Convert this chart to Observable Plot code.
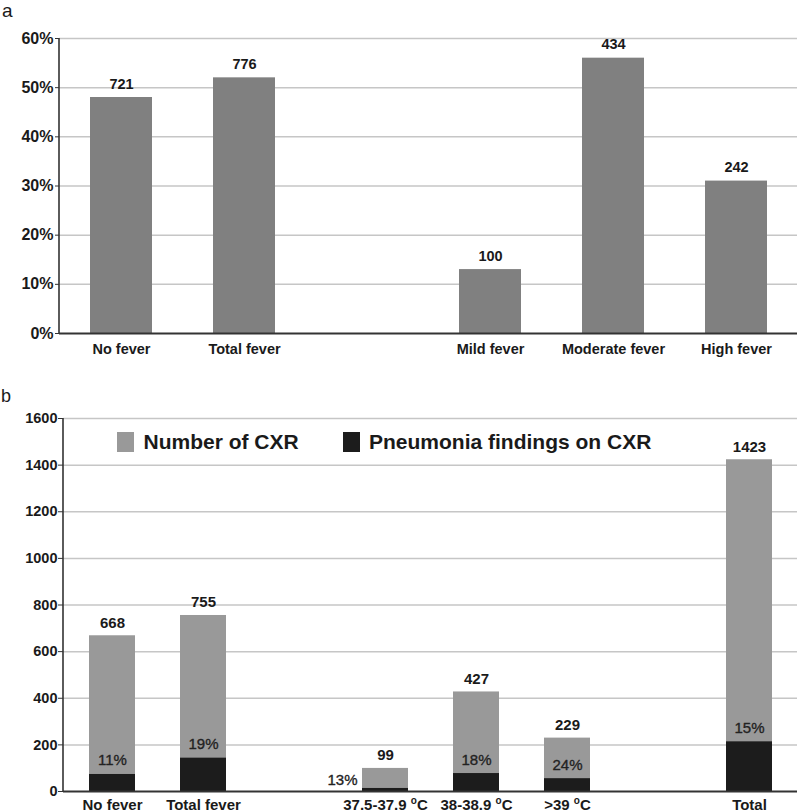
<!DOCTYPE html>
<html>
<head>
<meta charset="utf-8">
<script src="https://cdn.jsdelivr.net/npm/d3@7"></script>
<script src="https://cdn.jsdelivr.net/npm/@observablehq/plot@0.6"></script>
<style>
  html, body { margin: 0; padding: 0; background: #fff; }
  #wrap { position: relative; width: 800px; height: 812px; font-family: "Liberation Sans", Arial, sans-serif; color: #1a1a1a; }
  .panel { position: absolute; left: 0; width: 800px; }
  .plabel { position: absolute; line-height: 1.2; font-weight: normal; }
  .leg { position: absolute; font-size: 21px; font-weight: bold; line-height: normal; white-space: nowrap; }
  .sw { position: absolute; width: 17px; height: 20px; }
  svg { overflow: visible; }
</style>
</head>
<body>
<div id="wrap">
  <div class="panel" id="pa" style="top:0;height:365px"></div>
  <div class="panel" id="pb" style="top:365px;height:447px"></div>
</div>
<script>
const FONT = '"Liberation Sans", Arial, sans-serif';

// ---- Panel a data ----
const catsA = ["No fever", "Total fever", " ", "Mild fever", "Moderate fever", "High fever"];
const barCatsA = ["No fever", "Total fever", "Mild fever", "Moderate fever", "High fever"];
const pctA = [0.48, 0.52, 0.13, 0.56, 0.31];
const countA = [721, 776, 100, 434, 242];
const tickValsA = [0, 0.1, 0.2, 0.3, 0.4, 0.5, 0.6];
const tickLabelsA = ["0%", "10%", "20%", "30%", "40%", "50%", "60%"];

// ---- Panel b data ----
const catsB = ["No fever", "Total fever", " ", "37.5-37.9 °C", "38-38.9 °C", ">39 °C", "  ", "Total"];
const barCatsB = ["No fever", "Total fever", "37.5-37.9 °C", "38-38.9 °C", ">39 °C", "Total"];
const cxrB = [668, 755, 99, 427, 229, 1423];
const pneuB = [73, 143, 13, 77, 55, 213];
const pctLabelB = ["11%", "19%", "13%", "18%", "24%", "15%"];
const outsideB = [false, false, true, false, false, false];
const tickValsB = [0, 200, 400, 600, 800, 1000, 1200, 1400, 1600];
const seriesNames = ["Number of CXR", "Pneumonia findings on CXR"];
const seriesColors = ["#999999", "#1c1c1c"];

const dataA = barCatsA.map((c, i) => ({cat: c, pct: pctA[i], n: countA[i]}));
const dataB = barCatsB.map((c, i) => ({cat: c, total: cxrB[i], pneu: pneuB[i], pct: pctLabelB[i], out: outsideB[i]}));

function addYAxisLine(plot, marginLeft) {
  const r = plot.scale("y").range;
  d3.select(plot).append("line")
    .attr("x1", marginLeft).attr("x2", marginLeft)
    .attr("y1", r[0]).attr("y2", r[1])
    .attr("stroke", "#333").attr("stroke-width", 1.6);
}

// ---- Panel a ----
const plotA = Plot.plot({
  width: 800, height: 365,
  marginLeft: 59, marginRight: 3, marginTop: 38, marginBottom: 32,
  style: {fontFamily: FONT, color: "#1a1a1a", background: "white", overflow: "visible"},
  x: {type: "band", domain: catsA, paddingInner: 0.5, paddingOuter: 0.25, align: 0.5},
  y: {domain: [0, 0.6]},
  marks: [
    Plot.gridY(tickValsA.slice(1), {stroke: "#c6c6c6", strokeOpacity: 1, strokeWidth: 1.5}),
    Plot.barY(dataA, {x: "cat", y: "pct", fill: "#808080"}),
    Plot.ruleY([0], {stroke: "#333", strokeWidth: 2}),
    Plot.text(dataA, {x: "cat", y: "pct", text: d => String(d.n), lineAnchor: "bottom", dy: -9,
      fontWeight: "bold", fontSize: 14.5, fill: "#1a1a1a"}),
    Plot.axisY(tickValsA, {tickFormat: d => tickLabelsA[tickValsA.indexOf(d)], tickSize: 4, tickPadding: 2,
      fontWeight: "bold", fontSize: 16, label: null, stroke: "#333"}),
    Plot.axisX({tickSize: 0, tickPadding: 10, fontWeight: "bold", fontSize: 14.5, label: null,
      tickFormat: d => d.trim()})
  ]
});
addYAxisLine(plotA, 59);
document.getElementById("pa").appendChild(plotA);

// ---- Panel b ----
const plotB = Plot.plot({
  width: 800, height: 447,
  marginLeft: 63, marginRight: 3, marginTop: 53, marginBottom: 21,
  style: {fontFamily: FONT, color: "#1a1a1a", background: "white", overflow: "visible"},
  x: {type: "band", domain: catsB, paddingInner: 0.5, paddingOuter: 0.25, align: 0.5},
  y: {domain: [0, 1600]},
  marks: [
    Plot.gridY(tickValsB.slice(1), {stroke: "#c6c6c6", strokeOpacity: 1, strokeWidth: 1.5}),
    Plot.barY(dataB, {x: "cat", y: "total", fill: seriesColors[0]}),
    Plot.barY(dataB, {x: "cat", y: "pneu", fill: seriesColors[1]}),
    Plot.ruleY([0], {stroke: "#333", strokeWidth: 2}),
    Plot.text(dataB, {x: "cat", y: "total", text: d => String(d.total), lineAnchor: "bottom", dy: -8,
      fontWeight: "bold", fontSize: 15, fill: "#1a1a1a"}),
    Plot.text(dataB.filter(d => !d.out), {x: "cat", y: "pneu", text: "pct", lineAnchor: "bottom", dy: -9,
      fontSize: 15, fill: "#222", stroke: "#222", strokeWidth: 0.35}),
    Plot.text(dataB.filter(d => d.out), {x: "cat", y: "pneu", text: "pct", lineAnchor: "bottom", dy: -3,
      dx: -28, textAnchor: "end", fontSize: 15, fill: "#222", stroke: "#222", strokeWidth: 0.35}),
    Plot.axisY(tickValsB, {tickSize: 5, tickPadding: 1, fontWeight: "bold", fontSize: 14.5, label: null,
      stroke: "#333", tickFormat: d => String(d)}),
    Plot.axisX({tickSize: 0, tickPadding: 7.5, fontWeight: "bold", fontSize: 15, label: null,
      tickFormat: d => d.trim()})
  ]
});
addYAxisLine(plotB, 63);
// superscript "o" for degree labels
d3.select(plotB).selectAll('g[aria-label="x-axis tick label"] text').each(function() {
  const t = this.textContent;
  if (t.includes("°")) {
    const parts = t.split("°");
    const sel = d3.select(this);
    sel.text(null);
    sel.append("tspan").text(parts[0]);
    sel.append("tspan").attr("dy", -6).attr("font-size", 10).text("o");
    sel.append("tspan").attr("dy", 6).text(parts[1]);
  }
});
const pb = document.getElementById("pb");
pb.appendChild(plotB);

// legend (inside panel b)
const legX = [117, 342.5];
seriesNames.forEach((name, i) => {
  const sw = document.createElement("div");
  sw.className = "sw";
  sw.style.left = legX[i] + "px";
  sw.style.top = "67px";
  sw.style.background = seriesColors[i];
  pb.appendChild(sw);
  const tx = document.createElement("div");
  tx.className = "leg";
  tx.style.left = (legX[i] + 26.5) + "px";
  tx.style.top = "65px";
  tx.textContent = name;
  pb.appendChild(tx);
});

// panel letters
const la = document.createElement("div");
la.className = "plabel"; la.style.left = "2px"; la.style.top = "0px"; la.style.fontSize = "19px";
la.textContent = "a";
document.getElementById("pa").appendChild(la);
const lb = document.createElement("div");
lb.className = "plabel"; lb.style.left = "1px"; lb.style.top = "21px"; lb.style.fontSize = "18px";
lb.textContent = "b";
pb.appendChild(lb);
</script>
</body>
</html>
